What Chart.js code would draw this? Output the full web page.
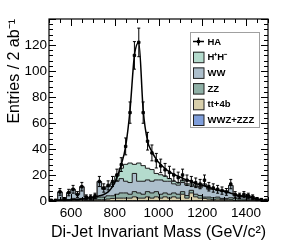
<!DOCTYPE html>
<html>
<head>
<meta charset="utf-8">
<script src="https://cdn.jsdelivr.net/npm/chart.js@4.4.0/dist/chart.umd.min.js"></script>
<style>
  html, body { margin: 0; padding: 0; background: #fff; }
  #wrap { width: 291px; height: 246px; }
</style>
</head>
<body>
<div id="wrap"><canvas id="mass_chart"></canvas></div>
<script>
// 20 GeV bins, 500 - 1500
const binEdges = [500, 520, 540, 560, 580, 600, 620, 640, 660, 680, 700, 720, 740, 760, 780,
  800, 820, 840, 860, 880, 900, 920, 940, 960, 980, 1000, 1020, 1040, 1060, 1080, 1100,
  1120, 1140, 1160, 1180, 1200, 1220, 1240, 1260, 1280, 1300, 1320, 1340, 1360, 1380,
  1400, 1420, 1440, 1460, 1480, 1500];

// backgrounds (per bin, stacked bottom -> top)
const wwzZzz = [0, 0, 0, 0, 0, 0, 0, 0, 0, 0, 0, 0, 0, 0, 0, 0.2, 0.2, 0.2, 0.2, 0.2, 0.2, 0.2, 0.2, 0.2, 0.2,
  0.2, 0.2, 0.2, 0.2, 0.2, 0.2, 0.2, 0.2, 0.2, 0.2, 0, 0, 0, 0, 0, 0, 0, 0, 0, 0, 0, 0, 0, 0, 0];
const tt4b = [0, 0, 0.5, 0, 0.5, 1, 0.5, 1, 0.5, 0.5, 1, 1, 1, 1.5, 2, 2, 2, 2, 2, 3, 2, 2, 3, 2, 3,
  2, 3, 2, 3, 2, 5, 2, 6, 3, 2, 2, 1.5, 1, 1.5, 1, 1, 1, 0.5, 0.5, 0.5, 0.5, 0.5, 0, 0, 0];
const zz = [0, 0, 0.5, 0, 0.5, 1, 1, 1, 0.5, 0.5, 1, 2, 2, 2.5, 2, 3, 4, 4, 3, 4, 4, 3, 4, 4, 4,
  3, 3, 3, 3, 3, 2, 2, 2, 2, 2, 1, 1.5, 1.5, 1.5, 1, 1, 1.5, 1.5, 1, 1, 0.5, 0.5, 0.5, 0, 0];
const ww = [0, 0, 6, 1, 5, 7, 3.5, 9, 2, 1, 1, 12, 6, 7, 9, 10, 11, 9, 9, 14, 9, 10, 9, 9, 9,
  11, 9, 10, 7, 7, 7, 8, 4, 6, 6, 10, 6, 6.5, 5, 6, 5, 9.5, 2, 1.5, 2.5, 2.5, 2, 0.5, 0.5, 0];
const hphm = [0, 0, 0, 0, 0.5, 0, 0, 0, 0, 0.5, 0.5, 0, 0.5, 0.5, 1, 4, 8, 13, 15, 7, 14, 12, 9, 9, 5,
  4, 4, 2, 2, 2, 2, 1, 1, 1, 1, 0, 0.5, 0, 0.5, 0, 0, 0, 0.5, 0.5, 0.5, 0.5, 0, 0, 0, 0];

// HA signal + background, with errors and fit
const haValues = [0.5, 0.5, 7, 1.5, 6.5, 9, 5, 11, 3, 3, 4, 15, 10, 12, 15, 20, 28, 42, 68, 112,
  122, 68, 46, 37, 31, 27, 24, 22, 20, 18, 20, 16, 15, 14, 13, 16, 11, 10, 9, 8,
  7, 13, 5, 4, 5, 4, 3, 1.5, 1, 0.5];
const haErrors = [0.7, 0.7, 2.6, 1.2, 2.5, 3, 2.2, 3.3, 1.7, 1.7, 2, 3.9, 3.2, 3.5, 3.9, 4.5, 5.3, 6.5, 8.2, 10.6,
  11, 8.2, 6.8, 6.1, 5.6, 5.2, 4.9, 4.7, 4.5, 4.2, 4.5, 4, 3.9, 3.7, 3.6, 4, 3.3, 3.2, 3, 2.8,
  2.6, 3.6, 2.2, 2, 2.2, 2, 1.7, 1.2, 1, 0.7];
const haFit = [0.3, 0.4, 0.5, 0.6, 0.8, 1, 1.2, 1.5, 2, 2.5, 3, 4, 5, 7, 11, 18, 28, 42, 70, 112,
  122, 70, 46, 38, 32, 28, 25, 22.5, 20.5, 19, 17.5, 16, 15, 13.5, 12.5, 11.5, 10.5, 9.5, 8.5, 7.7,
  7, 6, 5, 4.2, 3.5, 2.8, 2.2, 1.5, 1, 0.6];

const xTicks = [600, 800, 1000, 1200, 1400];
const yTicks = [0, 20, 40, 60, 80, 100, 120];

const FONT = "'Liberation Sans', Arial, sans-serif";

function stepPoints(values) {
  const pts = values.map((v, i) => ({ x: binEdges[i], y: v }));
  pts.push({ x: binEdges[values.length], y: values[values.length - 1] });
  return pts;
}
function centerPoints(values) {
  return values.map((v, i) => ({ x: (binEdges[i] + binEdges[i + 1]) / 2, y: v }));
}
function bgSet(label, values, color, fill) {
  return {
    label: label,
    data: stepPoints(values),
    stack: "bg",
    stepped: "before",
    fill: fill,
    backgroundColor: color,
    borderColor: "#1c1c1c",
    borderWidth: 1,
    pointRadius: 0,
  };
}

// error bars, inward ticks, frame and the boxed legend
const decorations = {
  id: "decorations",
  afterDraw(chart) {
    const { ctx, chartArea: a, scales: { x, y } } = chart;
    ctx.save();

    const ha = chart.getDatasetMeta(6);
    ctx.strokeStyle = "#000";
    ctx.lineWidth = 1;
    ha.data.forEach((pt, i) => {
      const top = y.getPixelForValue(haValues[i] + haErrors[i]);
      const bot = y.getPixelForValue(Math.max(0, haValues[i] - haErrors[i]));
      ctx.beginPath();
      ctx.moveTo(pt.x, top); ctx.lineTo(pt.x, bot);
      ctx.moveTo(pt.x - 1.5, top); ctx.lineTo(pt.x + 1.5, top);
      ctx.moveTo(pt.x - 1.5, bot); ctx.lineTo(pt.x + 1.5, bot);
      ctx.stroke();
    });

    ctx.lineWidth = 1.2;
    ctx.strokeRect(a.left, a.top, a.right - a.left, a.bottom - a.top);
    ctx.lineWidth = 1;
    ctx.beginPath();
    for (let v = 500; v <= 1500; v += 50) {
      const len = v % 200 === 0 ? 7 : 4;
      const px = Math.round(x.getPixelForValue(v)) + 0.5;
      ctx.moveTo(px, a.bottom); ctx.lineTo(px, a.bottom - len);
      ctx.moveTo(px, a.top); ctx.lineTo(px, a.top + len);
    }
    for (let v = 0; v <= 140; v += 4) {
      const len = v % 20 === 0 ? 7 : 4;
      const py = Math.round(y.getPixelForValue(v)) + 0.5;
      ctx.moveTo(a.left, py); ctx.lineTo(a.left + len, py);
      ctx.moveTo(a.right, py); ctx.lineTo(a.right - len, py);
    }
    ctx.stroke();

    // legend
    const lx = 190, ly = 32, lw = 69, lh = 95;
    ctx.fillStyle = "#fff";
    ctx.fillRect(lx, ly, lw, lh);
    ctx.strokeStyle = "#a0a0a0";
    ctx.strokeRect(lx + 0.5, ly + 0.5, lw, lh);
    const items = [6, 4, 3, 2, 1, 0];
    ctx.font = "bold 9.5px " + FONT;
    ctx.textBaseline = "middle";
    items.forEach((di, k) => {
      const ds = chart.data.datasets[di];
      const cy = 41.5 + k * 15.7;
      if (di === 6) {
        ctx.strokeStyle = "#000";
        ctx.lineWidth = 1.3;
        ctx.beginPath();
        ctx.moveTo(193, cy); ctx.lineTo(204, cy);
        ctx.moveTo(198.5, cy - 4); ctx.lineTo(198.5, cy + 4);
        ctx.stroke();
        ctx.fillStyle = "#000";
        ctx.fillRect(197, cy - 1.5, 3, 3);
      } else {
        ctx.fillStyle = ds.backgroundColor;
        ctx.fillRect(193, cy - 5.5, 11, 11);
        ctx.strokeStyle = "#222";
        ctx.lineWidth = 1;
        ctx.strokeRect(193.5, cy - 5, 10.5, 10.5);
      }
      ctx.fillStyle = "#000";
      ctx.fillText(ds.label, 207.5, cy + 0.5);
    });
    ctx.restore();
  },
};

const ctx = document.getElementById("mass_chart");
new Chart(ctx, {
  type: "line",
  data: {
    datasets: [
      bgSet("WWZ+ZZZ", wwzZzz, "#7f9edb", "origin"),
      bgSet("tt+4b", tt4b, "#d8cfab", "-1"),
      bgSet("ZZ", zz, "#8fb0a6", "-1"),
      bgSet("WW", ww, "#adbfcc", "-1"),
      bgSet("H\u207AH\u207B", hphm, "#b4dbcd", "-1"),
      {
        label: "fit",
        data: centerPoints(haFit),
        stack: "fit",
        order: -1,
        borderColor: "#000",
        borderWidth: 1.5,
        pointRadius: 0,
        fill: false,
        cubicInterpolationMode: "monotone",
      },
      {
        label: "HA",
        data: centerPoints(haValues),
        stack: "ha",
        order: -2,
        showLine: false,
        pointStyle: "rect",
        pointRadius: 1.7,
        backgroundColor: "#000",
        borderColor: "#000",
        fill: false,
      },
    ],
  },
  options: {
    responsive: true,
    maintainAspectRatio: false,
    animation: false,
    layout: { padding: { top: 19, right: 23, left: 0, bottom: 0 } },
    plugins: { legend: { display: false }, tooltip: { enabled: false } },
    scales: {
      x: {
        type: "linear",
        min: 500,
        max: 1500,
        grid: { display: false, drawTicks: false },
        border: { display: false },
        afterBuildTicks: (s) => { s.ticks = xTicks.map((v) => ({ value: v })); },
        afterFit: (s) => { s.height = 45; },
        ticks: {
          color: "#000", padding: 4, maxRotation: 0,
          font: { size: 13.5, family: FONT },
          callback: (v) => String(v),
        },
        title: {
          display: true,
          text: "Di-Jet Invariant Mass (GeV/c\u00B2)",
          color: "#000",
          font: { size: 16, family: FONT },
          padding: { top: 0, bottom: 4 },
        },
      },
      y: {
        stacked: true,
        min: 0,
        max: 140,
        grid: { display: false, drawTicks: false },
        border: { display: false },
        afterBuildTicks: (s) => { s.ticks = yTicks.map((v) => ({ value: v })); },
        afterFit: (s) => { s.width = 49; },
        ticks: {
          color: "#000", padding: 2,
          font: { size: 13.5, family: FONT },
          callback: (v) => String(v),
        },
        title: {
          display: true,
          text: "Entries / 2 ab\u207B\u00B9",
          align: "end",
          color: "#000",
          font: { size: 16, family: FONT },
          padding: { top: 5, bottom: 0 },
        },
      },
    },
  },
  plugins: [decorations],
});
</script>
</body>
</html>
